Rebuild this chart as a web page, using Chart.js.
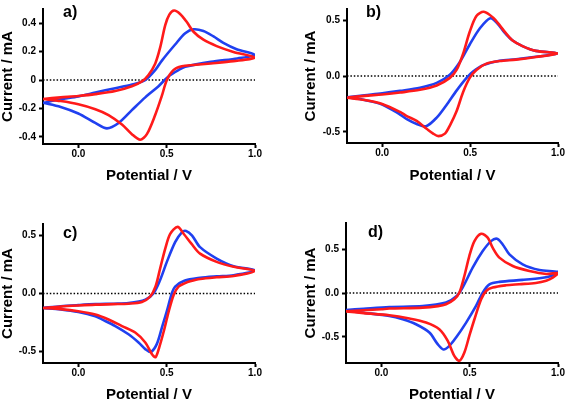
<!DOCTYPE html>
<html lang="en">
<head>
<meta charset="UTF-8">
<title>Cyclic voltammograms</title>
<script src="https://cdn.jsdelivr.net/npm/chart.js"></script>
<style>
  body { margin: 0; background: #fff; }
  #wrap { position: relative; width: 567px; height: 402px; overflow: hidden; }
  canvas { position: absolute; }
</style>
</head>
<body>
<div id="wrap">
  <canvas id="chartA" width="283" height="200" style="left:0;top:0"></canvas>
  <canvas id="chartB" width="284" height="200" style="left:283px;top:0"></canvas>
  <canvas id="chartC" width="283" height="202" style="left:0;top:200px"></canvas>
  <canvas id="chartD" width="284" height="202" style="left:283px;top:200px"></canvas>
</div>
<script>
// [potential V, current mA], each curve is one closed loop (forward scan then back)
const aRed = [[-0.2,-0.133],[-0.1,-0.122],[0,-0.112],[0.096,-0.099],[0.209,-0.077],[0.303,-0.043],[0.36,-0.009],[0.397,0.036],[0.435,0.115],[0.463,0.228],[0.492,0.386],[0.515,0.46],[0.542,0.489],[0.576,0.465],[0.614,0.408],[0.652,0.34],[0.708,0.284],[0.783,0.239],[0.878,0.198],[1.0,0.158],
  [0.878,0.133],[0.75,0.117],[0.65,0.106],[0.586,0.097],[0.538,0.07],[0.501,0],[0.473,-0.11],[0.435,-0.246],[0.388,-0.381],[0.35,-0.42],[0.303,-0.381],[0.247,-0.313],[0.171,-0.246],[0.096,-0.205],[0,-0.17],[-0.1,-0.148],[-0.2,-0.133]];
const aBlue = [[-0.2,-0.16],[-0.1,-0.135],[0,-0.115],[0.096,-0.088],[0.209,-0.057],[0.3,-0.033],[0.378,0],[0.435,0.07],[0.473,0.137],[0.548,0.25],[0.605,0.329],[0.652,0.357],[0.708,0.345],[0.765,0.307],[0.821,0.262],[0.896,0.217],[1.0,0.176],
  [0.9,0.152],[0.75,0.128],[0.605,0.093],[0.567,0.07],[0.51,0.025],[0.454,-0.043],[0.379,-0.122],[0.303,-0.212],[0.228,-0.302],[0.162,-0.34],[0.096,-0.302],[0,-0.235],[-0.1,-0.189],[-0.2,-0.16]];

const bRed = [[-0.2,-0.195],[-0.1,-0.178],[0,-0.165],[0.102,-0.148],[0.215,-0.124],[0.31,-0.085],[0.385,-0.017],[0.423,0.054],[0.46,0.197],[0.498,0.396],[0.536,0.538],[0.578,0.575],[0.63,0.524],[0.668,0.455],[0.7,0.39],[0.74,0.32],[0.798,0.268],[0.874,0.225],[1.0,0.202],
  [0.874,0.17],[0.761,0.147],[0.668,0.134],[0.593,0.111],[0.536,0.054],[0.498,-0.017],[0.46,-0.145],[0.423,-0.316],[0.385,-0.444],[0.357,-0.516],[0.32,-0.538],[0.29,-0.516],[0.253,-0.473],[0.196,-0.402],[0.14,-0.359],[0.102,-0.322],[0,-0.25],[-0.1,-0.215],[-0.2,-0.195]];
const bBlue = [[-0.2,-0.19],[-0.1,-0.172],[0,-0.155],[0.102,-0.133],[0.215,-0.105],[0.31,-0.062],[0.385,0.011],[0.442,0.125],[0.498,0.282],[0.555,0.425],[0.615,0.517],[0.657,0.467],[0.695,0.39],[0.74,0.32],[0.798,0.268],[0.874,0.225],[1.0,0.202],
  [0.874,0.172],[0.761,0.15],[0.668,0.137],[0.574,0.097],[0.517,0.04],[0.48,-0.017],[0.423,-0.131],[0.366,-0.259],[0.31,-0.373],[0.25,-0.45],[0.196,-0.43],[0.14,-0.387],[0.102,-0.345],[0,-0.255],[-0.1,-0.215],[-0.2,-0.19]];

const cRed = [[-0.2,-0.125],[-0.1,-0.112],[0,-0.103],[0.096,-0.096],[0.2,-0.092],[0.284,-0.088],[0.36,-0.073],[0.407,-0.026],[0.437,0.06],[0.463,0.216],[0.492,0.387],[0.52,0.514],[0.562,0.575],[0.597,0.514],[0.64,0.43],[0.689,0.344],[0.783,0.273],[0.879,0.23],[1.0,0.196],
  [0.879,0.151],[0.783,0.14],[0.689,0.125],[0.633,0.105],[0.605,0.09],[0.567,0.06],[0.54,-0.011],[0.512,-0.153],[0.484,-0.324],[0.458,-0.465],[0.437,-0.55],[0.416,-0.522],[0.379,-0.423],[0.322,-0.337],[0.247,-0.281],[0.171,-0.224],[0.096,-0.181],[0,-0.153],[-0.1,-0.135],[-0.2,-0.125]];
const cBlue = [[-0.2,-0.125],[-0.1,-0.11],[0,-0.1],[0.096,-0.092],[0.2,-0.088],[0.284,-0.083],[0.379,-0.054],[0.426,0.003],[0.463,0.117],[0.501,0.273],[0.548,0.443],[0.586,0.528],[0.61,0.54],[0.644,0.5],[0.689,0.4],[0.783,0.302],[0.879,0.236],[1.0,0.2],
  [0.879,0.158],[0.783,0.148],[0.689,0.135],[0.6,0.11],[0.548,0.06],[0.529,0],[0.501,-0.153],[0.473,-0.295],[0.444,-0.437],[0.41,-0.505],[0.379,-0.48],[0.341,-0.423],[0.284,-0.352],[0.209,-0.281],[0.134,-0.224],[0.096,-0.196],[0,-0.16],[-0.1,-0.138],[-0.2,-0.125]];

const dRed = [[-0.2,-0.21],[-0.1,-0.197],[0,-0.185],[0.045,-0.178],[0.234,-0.167],[0.32,-0.15],[0.366,-0.129],[0.413,-0.072],[0.442,0.005],[0.47,0.194],[0.498,0.422],[0.527,0.593],[0.565,0.677],[0.602,0.632],[0.63,0.518],[0.668,0.404],[0.744,0.308],[0.838,0.251],[0.933,0.218],[1.0,0.228],
  [0.97,0.175],[0.933,0.14],[0.874,0.115],[0.78,0.1],[0.706,0.088],[0.63,0.062],[0.593,0.023],[0.565,-0.072],[0.527,-0.3],[0.498,-0.49],[0.47,-0.68],[0.442,-0.775],[0.413,-0.718],[0.376,-0.547],[0.328,-0.414],[0.253,-0.338],[0.159,-0.292],[0.045,-0.254],[-0.1,-0.23],[-0.2,-0.21]];
const dBlue = [[-0.2,-0.195],[-0.1,-0.18],[0.045,-0.16],[0.234,-0.15],[0.366,-0.11],[0.423,-0.041],[0.46,0.062],[0.517,0.29],[0.574,0.479],[0.621,0.593],[0.655,0.62],[0.687,0.555],[0.725,0.441],[0.8,0.327],[0.895,0.262],[1.0,0.24],
  [0.96,0.195],[0.914,0.175],[0.8,0.15],[0.668,0.127],[0.612,0.099],[0.574,0.005],[0.536,-0.148],[0.48,-0.338],[0.423,-0.509],[0.385,-0.604],[0.352,-0.645],[0.319,-0.585],[0.272,-0.452],[0.196,-0.357],[0.121,-0.3],[0.045,-0.262],[-0.1,-0.225],[-0.2,-0.2]];

const xRange = [-0.2, 1.0];
const xTicks = [0, 0.5, 1.0];
const xTickLabels = ['0.0', '0.5', '1.0'];
const aYRange = [-0.45, 0.5];
const aYTicks = [-0.4, -0.2, 0, 0.2, 0.4];
const aYTickLabels = ['-0.4', '-0.2', '0', '0.2', '0.4'];
const bYRange = [-0.6, 0.6];
const cYRange = [-0.6, 0.6];
const dYRange = [-0.8, 0.8];
const yTicks = [-0.5, 0, 0.5];
const yTickLabels = ['-0.5', '0.0', '0.5'];

const FONT = "'Liberation Sans', Arial, Helvetica, sans-serif";
Chart.defaults.font.family = FONT;
Chart.defaults.color = '#000';

const toXY = pts => pts.map(([x, y]) => ({ x, y }));

// draws the "a)" style panel tag
const panelTag = {
  id: 'panelTag',
  afterDraw(chart, args, opts) {
    const ctx = chart.ctx;
    ctx.save();
    ctx.font = 'bold 16px ' + FONT;
    ctx.fillStyle = '#000';
    ctx.textBaseline = 'alphabetic';
    ctx.fillText(opts.text, opts.x, opts.y);
    ctx.restore();
  }
};

function makePanel(id, tag, red, blue, yRange, yT, yL, box) {
  new Chart(document.getElementById(id), {
    type: 'scatter',
    data: {
      datasets: [
        { data: toXY(red), showLine: true, borderColor: '#ff1a1a', borderWidth: 2.6, pointRadius: 0, tension: 0.3, fill: false },
        { data: toXY(blue), showLine: true, borderColor: '#2040f0', borderWidth: 2.6, pointRadius: 0, tension: 0.3, fill: false },
        { data: [{ x: xRange[0], y: 0 }, { x: xRange[1], y: 0 }], showLine: true, borderColor: '#000', borderWidth: 1.5, borderDash: [1.5, 1.9], pointRadius: 0, fill: false }
      ]
    },
    options: {
      responsive: false,
      animation: false,
      devicePixelRatio: 1,
      layout: { padding: { left: 0, top: box.top, right: box.right, bottom: 0 } },
      plugins: {
        legend: { display: false },
        tooltip: { enabled: false },
        panelTag: { text: tag, x: box.tagX, y: box.tagY }
      },
      scales: {
        x: {
          type: 'linear', min: xRange[0], max: xRange[1],
          afterBuildTicks: s => { s.ticks = xTicks.map(v => ({ value: v })); },
          afterFit: s => { s.height = box.xH; },
          border: { color: '#000', width: 2 },
          grid: { drawOnChartArea: false, drawTicks: true, tickLength: 4, tickColor: '#000', tickWidth: 2 },
          ticks: { autoSkip: false, maxRotation: 0, padding: 0, color: '#000', font: { size: 10, weight: 'bold' },
                   callback: (v, i) => xTickLabels[i] },
          title: { display: true, text: 'Potential / V', color: '#000', font: { size: 15, weight: 'bold', lineHeight: 1 },
                   padding: { top: 0, bottom: box.xTitlePad } }
        },
        y: {
          type: 'linear', min: yRange[0], max: yRange[1],
          afterBuildTicks: s => { s.ticks = yT.map(v => ({ value: v })); },
          afterFit: s => { s.width = box.yW; },
          border: { color: '#000', width: 2 },
          grid: { drawOnChartArea: false, drawTicks: true, tickLength: 4, tickColor: '#000', tickWidth: 2 },
          ticks: { autoSkip: false, padding: 3, color: '#000', font: { size: 10, weight: 'bold' },
                   callback: (v, i) => yL[i] },
          title: { display: true, text: 'Current / mA', color: '#000', font: { size: 15, weight: 'bold', lineHeight: 1 },
                   padding: { top: box.yTitlePad, bottom: 0 } }
        }
      }
    },
    plugins: [panelTag]
  });
}

makePanel('chartA', 'a)', aRed, aBlue, aYRange, aYTicks, aYTickLabels,
  { top: 3, right: 28, yW: 43, xH: 56, xTitlePad: 17, yTitlePad: 0, tagX: 63, tagY: 16.7 });
makePanel('chartB', 'b)', bRed, bBlue, bYRange, yTicks, yTickLabels,
  { top: 2, right: 9, yW: 64, xH: 57, xTitlePad: 17, yTitlePad: 20, tagX: 83, tagY: 16.5 });
makePanel('chartC', 'c)', cRed, cBlue, cYRange, yTicks, yTickLabels,
  { top: 24, right: 28, yW: 43, xH: 39, xTitlePad: 0, yTitlePad: 0, tagX: 63, tagY: 37.7 });
makePanel('chartD', 'd)', dRed, dBlue, dYRange, yTicks, yTickLabels,
  { top: 23, right: 9, yW: 63, xH: 39, xTitlePad: 0, yTitlePad: 20, tagX: 85, tagY: 36.7 });
</script>
</body>
</html>
